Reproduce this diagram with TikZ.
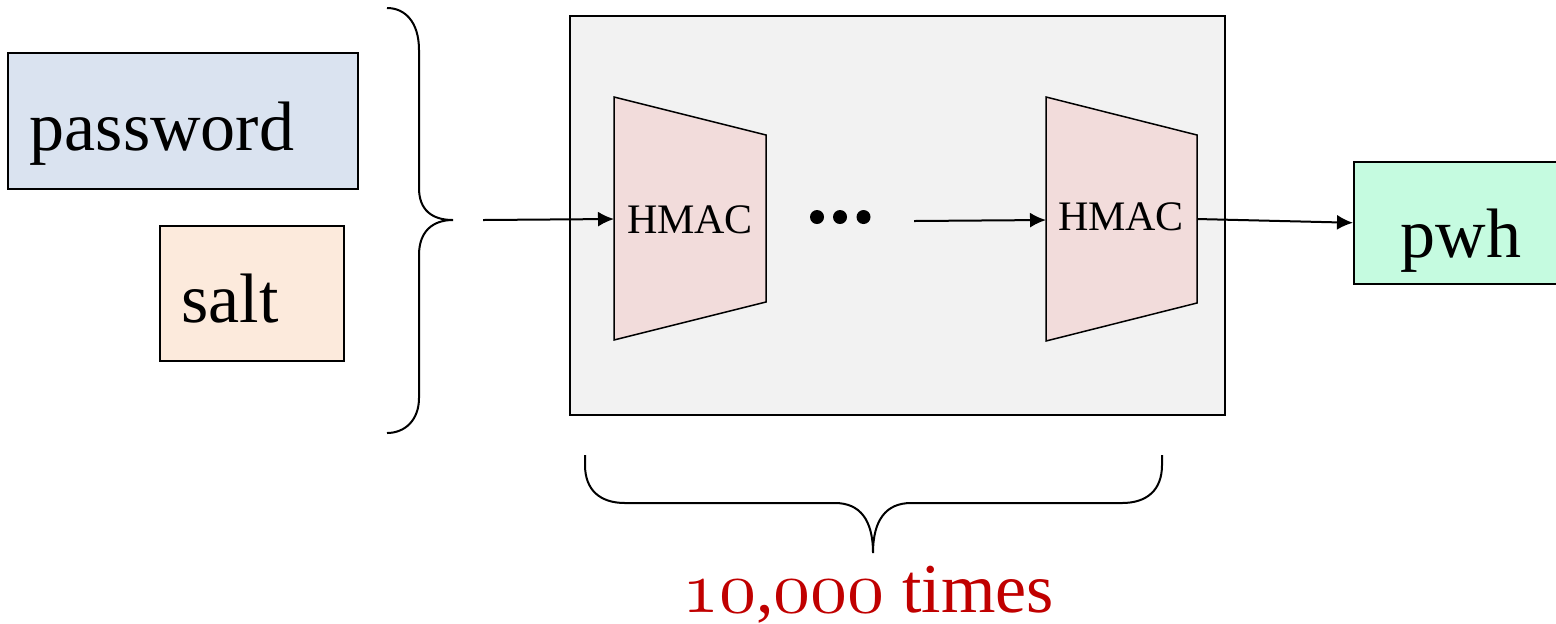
\documentclass[tikz,border=0pt]{standalone}
\usepackage{fontspec}
\setmainfont{Liberation Serif}
\usetikzlibrary{arrows.meta}
\definecolor{pwfill}{HTML}{DAE3F0}
\definecolor{saltfill}{HTML}{FCEADC}
\definecolor{boxfill}{HTML}{F2F2F2}
\definecolor{hmacfill}{HTML}{F2DCDB}
\definecolor{pwhfill}{HTML}{C5FBE0}
\definecolor{timesred}{HTML}{C00000}
\font\osfdigits=cmmi10 at 37pt
\newcommand{\osnum}[1]{{\osfdigits #1}}
\tikzset{
  box/.style={draw=black, line width=0.75pt, inner sep=0pt},
  biglabel/.style={font=\fontsize{35}{42}\selectfont, inner sep=0pt, anchor=base},
  hmaclabel/.style={font=\fontsize{21}{25}\selectfont, inner sep=0pt, anchor=base},
  conn/.style={line width=1pt, -{Latex[length=8pt,width=7.5pt]}},
  bracepath/.style={line width=1pt},
  trap/.style={draw=black, line width=0.75pt, fill=hmacfill},
}
\begin{document}
\begin{tikzpicture}[x=0.5pt,y=-0.5pt]
\useasboundingbox (0,0) rectangle (1556,623);
\clip (0,0) rectangle (1556,623);

% input boxes
\node[box, fill=pwfill, minimum width=175pt, minimum height=68pt] (pw) at (183,121) {};
\node[biglabel] (pwtext) at (162,150) {password};
\node[box, fill=saltfill, minimum width=92pt, minimum height=67.5pt] (salt) at (252,293.5) {};
\node[biglabel] (salttext) at (230,322) {salt};

% left brace
\draw[bracepath] (387,8) .. controls (405,8) and (419,22) .. (419,50) -- (419,188)
  .. controls (419,210) and (432,220) .. (453,220)
  .. controls (432,220) and (419,232) .. (419,255) -- (419,398)
  .. controls (419,420) and (405,433) .. (387,433);

% gray iteration box
\node[draw=black, line width=0.6pt, fill=boxfill, minimum width=327.5pt, minimum height=199.5pt, inner sep=0pt] (loop) at (897.5,215.5) {};

% HMAC trapezoids
\draw[trap] (614,97) -- (766,135) -- (766,302) -- (614,340) -- cycle;
\draw[trap] (1046,97) -- (1197,135) -- (1197,303) -- (1046,341) -- cycle;
\coordinate (h1in) at (614,219);
\coordinate (h2in) at (1046,220);
\coordinate (h2out) at (1197,219);
\node[hmaclabel] (h1) at (690,233) {HMAC};
\node[hmaclabel] (h2) at (1121,230) {HMAC};

% dots
\fill (817,217) circle (3.5pt);
\fill (840,217) circle (3.5pt);
\fill (863.5,217) circle (3.5pt);

% output box
\node[box, fill=pwhfill, minimum width=125pt, minimum height=61pt, anchor=north west] (pwh) at (1353,161) {};
\node[biglabel] (pwhtext) at (1461,257) {pwh};

% connectors
\coordinate (in) at (483,220);
\coordinate (mid) at (914,221);
\draw[conn] (in) -- (h1in);
\draw[conn] (mid) -- (h2in);
\draw[conn] (h2out) -- (pwh.west);

% bottom brace
\draw[bracepath] (585,455) -- (585,465) .. controls (585,490) and (600,503) .. (625,503) -- (835,503)
  .. controls (860,503) and (873,520) .. (873,553)
  .. controls (873,520) and (886,503) .. (911,503) -- (1122,503)
  .. controls (1147,503) and (1162,490) .. (1162,465) -- (1162,455);

\node[biglabel, text=timesred] (times) at (868,612) {\osnum{10},\osnum{000} times};
\end{tikzpicture}
\end{document}
